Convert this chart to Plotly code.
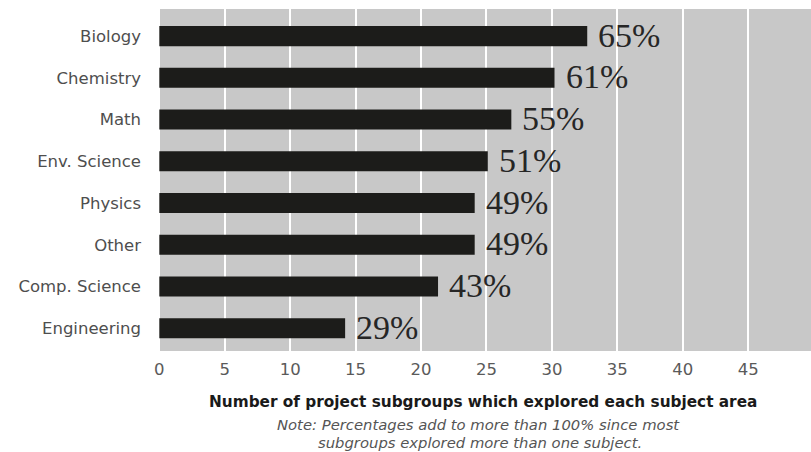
import plotly.graph_objects as go

# Subject areas, top to bottom
subjects = ["Biology", "Chemistry", "Math", "Env. Science", "Physics",
            "Other", "Comp. Science", "Engineering"]
# Number of project subgroups exploring each subject
counts = [32.7, 30.2, 26.9, 25.1, 24.1, 24.1, 21.3, 14.2]
# Share of subgroups, as printed next to each bar
shares = ["65%", "61%", "55%", "51%", "49%", "49%", "43%", "29%"]
x_ticks = [0, 5, 10, 15, 20, 25, 30, 35, 40, 45]

sans = "'DejaVu Sans', sans-serif"
serif = "'Liberation Serif', 'DejaVu Serif', serif"

fig = go.Figure()
fig.add_trace(go.Bar(
    y=subjects, x=counts, orientation="h",
    marker=dict(color="#1c1c1a", line=dict(width=0)),
    width=0.48, hoverinfo="skip",
))

for s, c, p in zip(subjects, counts, shares):
    fig.add_annotation(x=c, y=s, text=p, showarrow=False, xanchor="left",
                       xshift=9, yshift=1,
                       font=dict(family=serif, size=34, color="#262626"))

fig.update_layout(
    width=811, height=452,
    margin=dict(l=158, r=0, t=9, b=101),
    paper_bgcolor="white", plot_bgcolor="#c8c8c8",
    showlegend=False, bargap=0.52,
    xaxis=dict(range=[-0.1, 49.8], tickvals=x_ticks, showgrid=True,
               gridcolor="white", gridwidth=2, zeroline=False,
               showline=False, ticks="", ticklabelstandoff=6,
               tickfont=dict(family=sans, size=16.5, color="#5a5a5a")),
    yaxis=dict(categoryorder="array", categoryarray=subjects[::-1],
               range=[-0.545, 7.65], showgrid=False, zeroline=False,
               ticks="", ticklabelstandoff=16,
               tickfont=dict(family=sans, size=16.5, color="#4e4e4e")),
)

ph = 452 - 9 - 101
fig.add_annotation(xref="paper", yref="paper", x=0.5, y=-51 / ph, xshift=-2,
                   text="<b>Number of project subgroups which explored each subject area</b>",
                   showarrow=False, xanchor="center", yanchor="middle",
                   font=dict(family=sans, size=15.3, color="#1a1a1a"))
fig.add_annotation(xref="paper", yref="paper", x=0.5, y=-73 / ph, xshift=-6,
                   text="<i>Note: Percentages add to more than 100% since most</i>",
                   showarrow=False, xanchor="center", yanchor="middle",
                   font=dict(family=sans, size=14.8, color="#555555"))
fig.add_annotation(xref="paper", yref="paper", x=0.5, y=-91 / ph, xshift=-5,
                   text="<i>subgroups explored more than one subject.</i>",
                   showarrow=False, xanchor="center", yanchor="middle",
                   font=dict(family=sans, size=14.8, color="#555555"))

fig.write_html("out.html")
